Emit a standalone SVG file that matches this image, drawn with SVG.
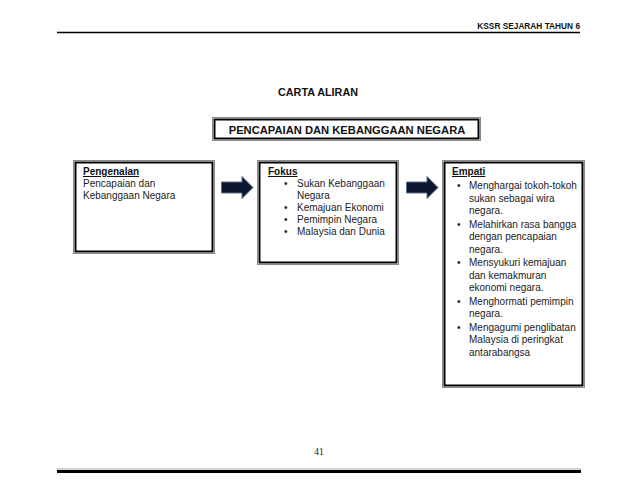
<svg xmlns="http://www.w3.org/2000/svg" width="638" height="493" viewBox="0 0 638 493">
<defs>
<style>
.t{font-family:"Liberation Sans",Arial,sans-serif;font-size:10px;fill:#222}
.h{font-family:"Liberation Sans",Arial,sans-serif;font-size:10px;font-weight:bold;fill:#111;text-decoration:underline}
.b{font-family:"Liberation Sans",Arial,sans-serif;font-weight:bold;fill:#111}
.outer{fill:#fff;stroke:#8a8a8a;stroke-width:1}
.inner{fill:none;stroke:#000;stroke-width:2}
.arr{fill:#0b1630;stroke:#5a6e8c;stroke-width:1}
</style>
</defs>
<rect width="638" height="493" fill="#fff"/>
<g id="header">
<text class="b" x="580" y="29" font-size="8.3" text-anchor="end">KSSR SEJARAH TAHUN 6</text>
<line x1="57" y1="32.5" x2="580" y2="32.5" stroke="#000" stroke-width="1.5"/>
</g>
<g id="heading">
<text class="b" x="318" y="96" font-size="10.8" text-anchor="middle">CARTA ALIRAN</text>
</g>
<g id="title">
<rect class="outer" x="212.5" y="117.5" width="268" height="23"/>
<rect class="inner" x="214.5" y="119.5" width="264" height="19"/>
<text class="b" x="347" y="134" font-size="11.2" text-anchor="middle">PENCAPAIAN DAN KEBANGGAAN NEGARA</text>
</g>
<g id="pengenalan">
<rect class="outer" x="73.5" y="160.5" width="141" height="93"/>
<rect class="inner" x="75.5" y="162.5" width="137" height="89"/>
<text class="h" x="83" y="175">Pengenalan</text>
<text class="t" x="83" y="187">Pencapaian dan</text>
<text class="t" x="83" y="199">Kebanggaan Negara</text>
</g>
<g id="fokus">
<rect class="outer" x="257.5" y="160.5" width="141" height="104"/>
<rect class="inner" x="259.5" y="162.5" width="137" height="100"/>
<text class="h" x="268" y="175">Fokus</text>
<g class="t">
<text x="284" y="187">•</text><text x="297" y="187">Sukan Kebanggaan</text>
<text x="297" y="198.5">Negara</text>
<text x="284" y="210.5">•</text><text x="297" y="210.5">Kemajuan Ekonomi</text>
<text x="284" y="222.5">•</text><text x="297" y="222.5">Pemimpin Negara</text>
<text x="284" y="234.5">•</text><text x="297" y="234.5">Malaysia dan Dunia</text>
</g>
</g>
<g id="empati">
<rect class="outer" x="442.5" y="160.5" width="142" height="227"/>
<rect class="inner" x="444.5" y="162.5" width="138" height="223"/>
<text class="h" x="452" y="175">Empati</text>
<g class="t">
<text x="457" y="189">•</text><text x="469" y="189">Menghargai tokoh-tokoh</text>
<text x="469" y="201.5">sukan sebagai wira</text>
<text x="469" y="214">negara.</text>
<text x="457" y="227.5">•</text><text x="469" y="227.5">Melahirkan rasa bangga</text>
<text x="469" y="240">dengan pencapaian</text>
<text x="469" y="252.5">negara.</text>
<text x="457" y="266">•</text><text x="469" y="266">Mensyukuri kemajuan</text>
<text x="469" y="278.5">dan kemakmuran</text>
<text x="469" y="291">ekonomi negara.</text>
<text x="457" y="304.5">•</text><text x="469" y="304.5">Menghormati pemimpin</text>
<text x="469" y="317">negara.</text>
<text x="457" y="330.5">•</text><text x="469" y="330.5">Mengagumi penglibatan</text>
<text x="469" y="343">Malaysia di peringkat</text>
<text x="469" y="355.5">antarabangsa</text>
</g>
</g>
<g id="connectors">
<path class="arr" d="M221.5,182 H242 V176.5 L253,187.5 L242,198.5 V193 H221.5 Z"/>
<path class="arr" d="M406.5,182 H427 V176.5 L438,187.5 L427,198.5 V193 H406.5 Z"/>
</g>
<g id="footer">
<text x="319" y="455" font-family="'Liberation Serif','Times New Roman',serif" font-size="9.5" fill="#111" text-anchor="middle">41</text>
<line x1="57" y1="469" x2="581" y2="469" stroke="#aaa" stroke-width="1"/>
<line x1="57" y1="471.5" x2="581" y2="471.5" stroke="#000" stroke-width="3"/>
</g>
</svg>
